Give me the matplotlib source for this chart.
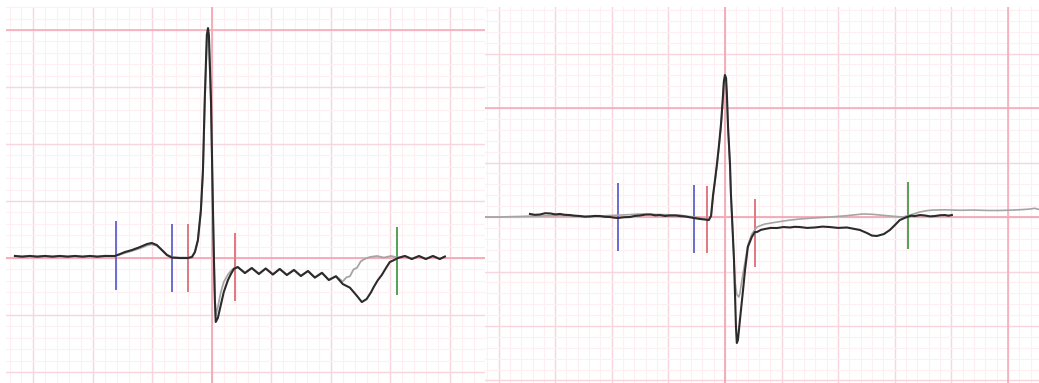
import numpy as np
import matplotlib
matplotlib.use("Agg")
import matplotlib.pyplot as plt
from matplotlib.ticker import MultipleLocator

# ---------------- data (time in ms, amplitude in mV) ----------------
# Left panel: averaged complex, dark and grey traces
left_dark_t = [-662, -638, -612, -587, -561, -536, -511, -485, -460, -435, -410, -385, -360, -326,
               -309, -292, -269, -242, -218, -202, -185, -168, -151, -134, -108, -81, -67,
               -57, -47, -37, -30, -24, -17, -13, -10, -3, 3, 7, 10, 13, 20, 30, 40, 54, 64, 74,
               87, 111, 134, 158, 181, 205, 228, 252, 276, 299, 323, 346, 370, 393, 417, 440,
               464, 487, 504, 520, 535, 544, 558, 571, 585, 598, 612, 625,
               649, 672, 696, 719, 743, 766, 783]
left_dark_v = [0.018, 0.012, 0.018, 0.012, 0.018, 0.012, 0.018, 0.012, 0.018, 0.012, 0.018, 0.012, 0.018, 0.018,
               0.035, 0.053, 0.070, 0.096, 0.123, 0.132, 0.114, 0.070, 0.026, 0.004, 0.0, 0.0, 0.009,
               0.053, 0.158, 0.421, 0.772, 1.386, 1.956, 2.017, 1.956, 1.386, 0.509, -0.018, -0.368, -0.561,
               -0.526, -0.412, -0.298, -0.193, -0.140, -0.095,
               -0.079, -0.132, -0.088, -0.140, -0.092, -0.145, -0.096, -0.149, -0.105, -0.158, -0.114, -0.172,
               -0.130, -0.193, -0.160, -0.228,
               -0.260, -0.330, -0.386, -0.360, -0.300, -0.254, -0.193, -0.149, -0.088, -0.035, -0.018, 0.0,
               0.018, -0.009, 0.018, -0.009, 0.018, -0.009, 0.013]

left_grey_t = [-662, -638, -612, -587, -561, -536, -511, -485, -460, -435, -410, -385, -360, -326,
               -309, -292, -269, -242, -218, -202, -185, -168, -151, -134, -108, -81, -67,
               -57, -47, -37, -30, -24, -17, -13, -10, -3, 3, 7, 10, 13, 20, 30, 40, 54, 64, 74,
               87, 111, 134, 158, 181, 205, 228, 252, 276, 299, 323, 346, 370, 393, 417, 440,
               452, 464, 476, 488, 500, 512, 531, 555, 578, 602, 625,
               649, 672, 696, 719, 743, 766, 783]
left_grey_v = [0.020, 0.014, 0.020, 0.014, 0.020, 0.014, 0.020, 0.014, 0.020, 0.014, 0.020, 0.014, 0.020, 0.018,
               0.030, 0.045, 0.062, 0.085, 0.110, 0.120, 0.108, 0.072, 0.030, 0.008, 0.004, 0.004, 0.012,
               0.050, 0.150, 0.400, 0.740, 1.340, 1.900, 1.960, 1.900, 1.330, 0.480, -0.030, -0.340, -0.500,
               -0.430, -0.300, -0.210, -0.145, -0.112, -0.090,
               -0.079, -0.128, -0.086, -0.136, -0.090, -0.140, -0.094, -0.145, -0.102, -0.154, -0.112, -0.168,
               -0.128, -0.188, -0.158, -0.205,
               -0.170, -0.160, -0.100, -0.085, -0.030, -0.010, 0.009, 0.018, 0.004, 0.018, 0.004,
               0.018, -0.006, 0.018, -0.006, 0.018, -0.006, 0.013]

# Left panel fiducial markers: time (ms), top (mV), bottom (mV), colour key
left_mark_t = [-323, -134, -81, 77, 622]
left_mark_top = [0.325, 0.298, 0.298, 0.219, 0.272]
left_mark_bot = [-0.281, -0.298, -0.298, -0.377, -0.325]
left_mark_kind = ["P", "P", "QRS", "QRS", "T"]

# Right panel: dark and grey traces
right_dark_t = [-689, -672, -654, -635, -615, -600, -583, -565, -548, -530, -512, -495, -477, -460, -442,
                -424, -406, -392, -378, -357, -336, -318, -300, -281, -262, -246, -230, -212, -194, -173,
                -157, -141, -125, -110, -88, -71, -57, -49, -42, -35, -28, -21, -14, -11, -7, -4, 0, 4, 7,
                11, 18, 21, 25, 32, 39, 42, 46, 53, 64, 71, 81, 95, 106, 113, 127, 141, 162, 184, 207, 230,
                247, 265, 290, 318, 345, 371, 400, 431, 459, 477, 502, 519, 537, 562, 583, 601, 618, 643,
                658, 671, 690, 707, 725, 742, 760, 777, 790, 802]
right_dark_v = [0.028, 0.020, 0.023, 0.035, 0.032, 0.024, 0.028, 0.020, 0.018, 0.012, 0.009, 0.003, 0.005,
                0.010, 0.009, 0.002, 0.0, -0.006, -0.009, -0.002, 0.0, 0.010, 0.014, 0.022, 0.023, 0.015,
                0.018, 0.010, 0.014, 0.014, 0.008, 0.005, -0.002, -0.009, -0.018, -0.023, -0.028, 0.010,
                0.200, 0.340, 0.490, 0.660, 0.850, 0.960, 1.110, 1.240, 1.303, 1.275, 1.119,
                0.826, 0.477, 0.220, 0.0, -0.394, -1.009, -1.156, -1.128, -0.945, -0.670, -0.486, -0.275,
                -0.183, -0.138, -0.138, -0.118, -0.110, -0.100, -0.101, -0.092, -0.096, -0.090, -0.092,
                -0.100, -0.096, -0.088, -0.092, -0.100, -0.096, -0.110, -0.119, -0.147, -0.170, -0.174,
                -0.156, -0.119, -0.073, -0.028, 0.0, 0.012, 0.009, 0.018, 0.014, 0.006, 0.009, 0.016,
                0.018, 0.012, 0.018]

right_grey_t = [-848, -795, -760, -724, -690, -654, -620, -583, -548, -512, -477, -442, -406, -371, -336,
                -300, -265, -230, -194, -159, -135, -110, -88, -71, -57, -49, -42, -35, -28, -21, -14,
                -11, -7, -4, 0, 4, 7, 11, 18, 21, 25, 32, 36, 42, 49, 53, 60, 71, 81, 95, 113, 140, 184,
                225, 265, 318, 371, 430, 488, 520, 548, 590, 629, 654, 689, 712, 735, 780, 830, 880, 930,
                972, 1020, 1050, 1078, 1095, 1110]
right_grey_v = [0.0, 0.0, 0.003, 0.005, 0.008, 0.009, 0.012, 0.014, 0.010, 0.005, 0.008, 0.009, 0.014,
                0.018, 0.022, 0.028, 0.025, 0.023, 0.020, 0.018, 0.008, 0.0, -0.009, -0.018, -0.023,
                0.008, 0.190, 0.330, 0.475, 0.640, 0.820, 0.930, 1.080, 1.210, 1.270, 1.245, 1.100,
                0.810, 0.460, 0.210, 0.0, -0.394, -0.600, -0.710, -0.734, -0.700, -0.578, -0.413, -0.257,
                -0.156, -0.092, -0.065, -0.046, -0.030, -0.018, -0.008, 0.0, 0.012, 0.028, 0.025, 0.018,
                0.008, 0.0, 0.018, 0.046, 0.058, 0.064, 0.066, 0.062, 0.064, 0.060, 0.060, 0.064, 0.068,
                0.073, 0.080, 0.069]

right_mark_t = [-378, -110, -64, 106, 647]
right_mark_top = [0.312, 0.294, 0.284, 0.165, 0.321]
right_mark_bot = [-0.312, -0.330, -0.330, -0.459, -0.294]
right_mark_kind = ["P", "P", "QRS", "QRS", "T"]

# ---------------- styling ----------------
W, H = 1039, 383
MARK_COLORS = {"P": "#6b6bd0", "QRS": "#e07880", "T": "#55a055"}
MINOR_C = "#fdeff2"
MAJOR_C = "#f8d6dd"
AXIS_C = "#f4a9b5"
DARK_C = "#2b2b2b"
GREY_C = "#a5a5a5"

fig = plt.figure(figsize=(W / 100, H / 100), dpi=100)
fig.patch.set_facecolor("white")


def setup_panel(ax, xlim, ylim, hl_y=(), hl_x=()):
    ax.set_xlim(*xlim)
    ax.set_ylim(*ylim)
    ax.xaxis.set_major_locator(MultipleLocator(200))
    ax.xaxis.set_minor_locator(MultipleLocator(40))
    ax.yaxis.set_major_locator(MultipleLocator(0.5))
    ax.yaxis.set_minor_locator(MultipleLocator(0.1))
    ax.grid(which="minor", color=MINOR_C, lw=0.8, zorder=0)
    ax.grid(which="major", color=MAJOR_C, lw=1.0, zorder=0)
    ax.set_axisbelow(True)
    ax.tick_params(which="both", length=0, labelbottom=False, labelleft=False)
    for s in ax.spines.values():
        s.set_visible(False)
    ax.axhline(0, color=AXIS_C, lw=1.3, zorder=1)
    ax.axvline(0, color=AXIS_C, lw=1.3, zorder=1)
    for y in hl_y:
        ax.axhline(y, color=AXIS_C, lw=1.1, zorder=1)
    for x in hl_x:
        ax.axvline(x, color=AXIS_C, lw=1.1, zorder=1)


def draw_marks(ax, ts, tops, bots, kinds):
    for t, a, b, k in zip(ts, tops, bots, kinds):
        ax.plot([t, t], [b, a], color=MARK_COLORS[k], lw=1.4, zorder=2, solid_capstyle="butt")


# Left panel
axL = fig.add_axes([6 / W, 0, (485 - 6) / W, 376 / H])
setup_panel(axL, (-692, 918), (-1.096, 2.202), hl_y=(2.0,))
draw_marks(axL, left_mark_t, left_mark_top, left_mark_bot, left_mark_kind)
axL.plot(left_grey_t, left_grey_v, color=GREY_C, lw=1.3, zorder=3, solid_joinstyle="round")
axL.plot(left_dark_t, left_dark_v, color=DARK_C, lw=1.5, zorder=4, solid_joinstyle="round")

# Right panel
axR = fig.add_axes([485 / W, 0, (W - 485) / W, 376 / H])
setup_panel(axR, (-848, 1110), (-1.523, 1.927), hl_y=(1.0,), hl_x=(1000,))
draw_marks(axR, right_mark_t, right_mark_top, right_mark_bot, right_mark_kind)
axR.plot(right_grey_t, right_grey_v, color=GREY_C, lw=1.2, zorder=3, solid_joinstyle="round")
axR.plot(right_dark_t, right_dark_v, color=DARK_C, lw=1.5, zorder=4, solid_joinstyle="round")

fig.savefig("out.png", dpi=100, facecolor="white")
